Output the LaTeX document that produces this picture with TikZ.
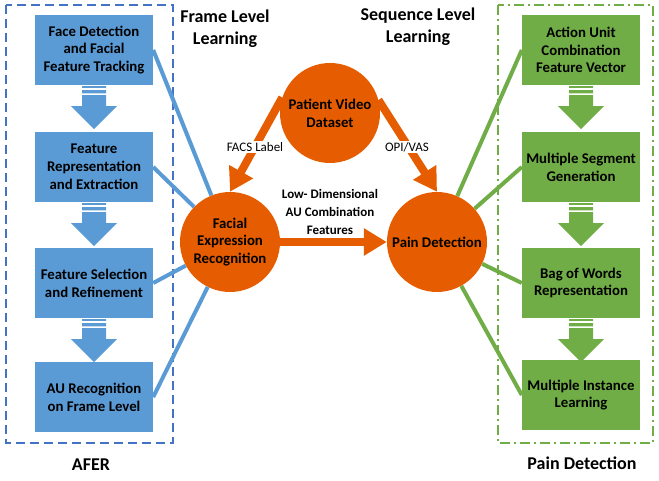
\documentclass[tikz,border=0pt]{standalone}
\usepackage{fontspec}
\setmainfont{Carlito}
\usetikzlibrary{calc,arrows.meta}
\definecolor{afblue}{HTML}{5B9BD5}
\definecolor{afdash}{HTML}{4472C4}
\definecolor{pdgreen}{HTML}{70AD47}
\definecolor{pdorange}{HTML}{E65C00}
\begin{document}
\begin{tikzpicture}[x=1pt,y=-1pt,
  box/.style={minimum width=118pt,minimum height=70pt,align=center,inner sep=0pt,font=\fontsize{14.8}{17.8}\selectfont\bfseries},
  ball/.style={circle,fill=pdorange,minimum size=100pt,inner sep=0pt,align=center,font=\fontsize{14.8}{17.8}\selectfont\bfseries},
  title/.style={align=center,font=\fontsize{18}{22}\selectfont\bfseries},
  lbl/.style={align=center,inner sep=1pt,font=\fontsize{13}{18}\selectfont},
  thick arrow/.style={pdorange,line width=8pt,-{Triangle[width=26pt,length=23pt]}}]
\useasboundingbox (0,0) rectangle (659,481);
% frames
\draw[afdash,line width=2pt,dash pattern=on 9pt off 5pt](6,5) rectangle (173,443);
\draw[pdgreen,line width=1.6pt,dash pattern=on 10pt off 4pt on 2pt off 4pt](498,5) rectangle (653,443);
% AFER steps
\node[box,fill=afblue](a1) at (94,50){Face Detection\\and Facial\\Feature Tracking};
\node[box,fill=afblue](a2) at (94,167){Feature\\Representation\\and Extraction};
\node[box,fill=afblue](a3) at (94,283){Feature Selection\\and Refinement};
\node[box,fill=afblue](a4) at (94,397){AU Recognition\\on Frame Level};
% pain detection steps
\node[box,fill=pdgreen](p1) at (581,50){Action Unit\\Combination\\Feature Vector};
\node[box,fill=pdgreen](p2) at (581,167){Multiple Segment\\Generation};
\node[box,fill=pdgreen](p3) at (581,283){Bag of Words\\Representation};
\node[box,fill=pdgreen](p4) at (581,395){Multiple Instance\\Learning};
\foreach \n/\c in {a1/afblue,a2/afblue,a3/afblue,p1/pdgreen,p2/pdgreen,p3/pdgreen}{
  \fill[\c]($(\n.south)+(-12,1)$) rectangle ++(24,1.6) ($(\n.south)+(-12,5)$) rectangle ++(24,3.2)
    ($(\n.south)+(-12,10)$)--++(24,0)--++(0,11)--++(11,0)--++(-23,23)--++(-23,-23)--++(11,0)--cycle;}
% circles
\node[ball](vid) at (330,113){Patient Video\\Dataset};
\node[ball](fer) at (230,242){Facial\\Expression\\Recognition};
\node[ball](pain) at (437,242){Pain Detection};
\foreach \n in {a1,a2,a3,a4}{\draw[afblue,line width=4pt](\n.east)--(fer);}
\foreach \n in {p1,p2,p3,p4}{\draw[pdgreen,line width=4pt](\n.west)--(pain);}
\draw[thick arrow](vid.162)--(fer.north);
\draw[thick arrow](vid.15)--(pain.north);
\draw[thick arrow](fer.east)--(pain.west);
\node[lbl,fill=white](facs) at (255,147){FACS Label};
\node[lbl,fill=white](opi) at (407,147){OPI/VAS};
\node[lbl,font=\fontsize{13}{18}\selectfont\bfseries](low) at (330,212){Low- Dimensional\\AU Combination\\Features};
% titles
\node[title](frame) at (225,29){Frame Level\\Learning};
\node[title](seq) at (418,27){Sequence Level\\Learning};
\node[title](afer) at (91,465){AFER};
\node[title](pdt) at (582,463){Pain Detection};
\end{tikzpicture}
\end{document}
